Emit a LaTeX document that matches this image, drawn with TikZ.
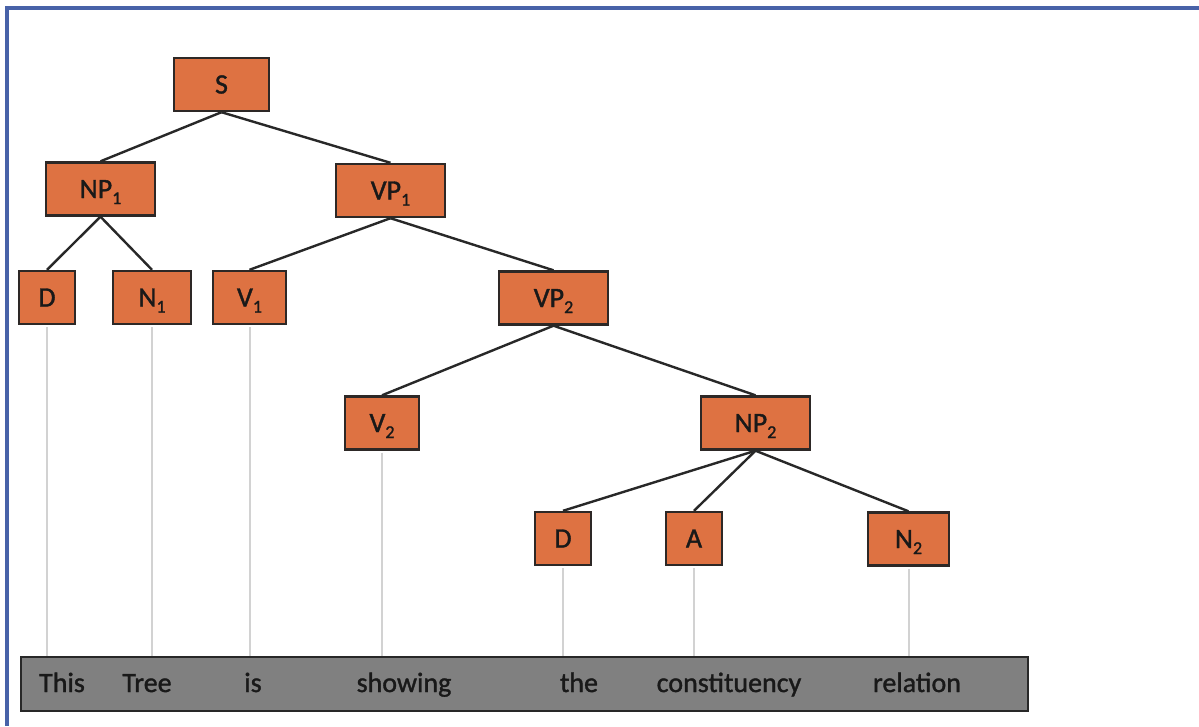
\documentclass[tikz,border=0pt]{standalone}
\usepackage{fontspec}
\setmainfont{Carlito}
\newfontfamily\heavy{Carlito}[FakeBold=1.3]
\newcommand\subidx[1]{\raisebox{-6pt}{\fontsize{18}{18}\selectfont #1}}
\definecolor{boxfill}{RGB}{222,114,66}
\definecolor{boxline}{RGB}{45,40,38}
\definecolor{edgecol}{RGB}{40,40,40}
\definecolor{leadcol}{RGB}{210,210,210}
\definecolor{barfill}{RGB}{128,128,128}
\definecolor{barline}{RGB}{40,40,40}
\definecolor{frameblue}{RGB}{72,98,168}
\definecolor{inkcol}{RGB}{25,25,25}
\begin{document}
\begin{tikzpicture}[x=1pt,y=-1pt,
  tnode/.style={draw=boxline, line width=2.4pt, fill=boxfill, minimum height=53pt,
    inner sep=0pt, text height=18pt, text depth=0pt, text=inkcol,
    font=\heavy\fontsize{28}{30}\selectfont},
  edge/.style={draw=edgecol, line width=2.4pt},
  lead/.style={draw=leadcol, line width=2pt},
  word/.style={anchor=base, font=\heavy\fontsize{28}{30}\selectfont, text=inkcol, inner sep=0pt}]
\useasboundingbox (0,0) rectangle (1199,726);
\fill[white] (0,0) rectangle (1199,726);
\fill[frameblue] (5,6) rectangle (1199,10);
\fill[frameblue] (5,6) rectangle (9,726);

% bottom bar
\node[draw=barline, line width=2.6pt, fill=barfill, minimum width=1007pt,
  minimum height=54pt, inner sep=0pt] (bar) at (524.5,684) {};

% tree nodes
\node[tnode, minimum width=95pt]  (s)   at (221.5,84.5) {S};
\node[tnode, minimum width=109pt] (np1) at (100.5,189) {NP\subidx{1}};
\node[tnode, minimum width=109pt] (vp1) at (390.5,190.5) {VP\subidx{1}};
\node[tnode, minimum width=56pt]  (d1)  at (47,297.5) {D};
\node[tnode, minimum width=78pt]  (n1)  at (152,297.5) {N\subidx{1}};
\node[tnode, minimum width=73pt]  (v1)  at (249.5,297.5) {V\subidx{1}};
\node[tnode, minimum width=109pt] (vp2) at (553.5,298) {VP\subidx{2}};
\node[tnode, minimum width=74pt]  (v2)  at (382,423) {V\subidx{2}};
\node[tnode, minimum width=109pt] (np2) at (755.5,423) {NP\subidx{2}};
\node[tnode, minimum width=56pt]  (d2)  at (563,538.5) {D};
\node[tnode, minimum width=56pt]  (a)   at (694,538.5) {A};
\node[tnode, minimum width=81pt]  (n2)  at (908.5,539) {N\subidx{2}};

% tree edges
\draw[edge] (s.south) -- (np1.north);
\draw[edge] (s.south) -- (vp1.north);
\draw[edge] (np1.south) -- (d1.north);
\draw[edge] (np1.south) -- (n1.north);
\draw[edge] (vp1.south) -- (v1.north);
\draw[edge] (vp1.south) -- (vp2.north);
\draw[edge] (vp2.south) -- (v2.north);
\draw[edge] (vp2.south) -- (np2.north);
\draw[edge] (np2.south) -- (d2.north);
\draw[edge] (np2.south) -- (a.north);
\draw[edge] (np2.south) -- (n2.north);

% leads to words
\foreach \n in {d1,n1,v1,v2,d2,a,n2}
  \draw[lead] ([yshift=-2pt]\n.south) -- (\n.south |- bar.north);

% words
\node[word] (w1) at (62,692) {This};
\node[word] (w2) at (147,692) {Tree};
\node[word] (w3) at (253,692) {is};
\node[word] (w4) at (404,692) {showing};
\node[word] (w5) at (579,692) {the};
\node[word] (w6) at (729,692) {constituency};
\node[word] (w7) at (917,692) {relation};
\end{tikzpicture}
\end{document}
